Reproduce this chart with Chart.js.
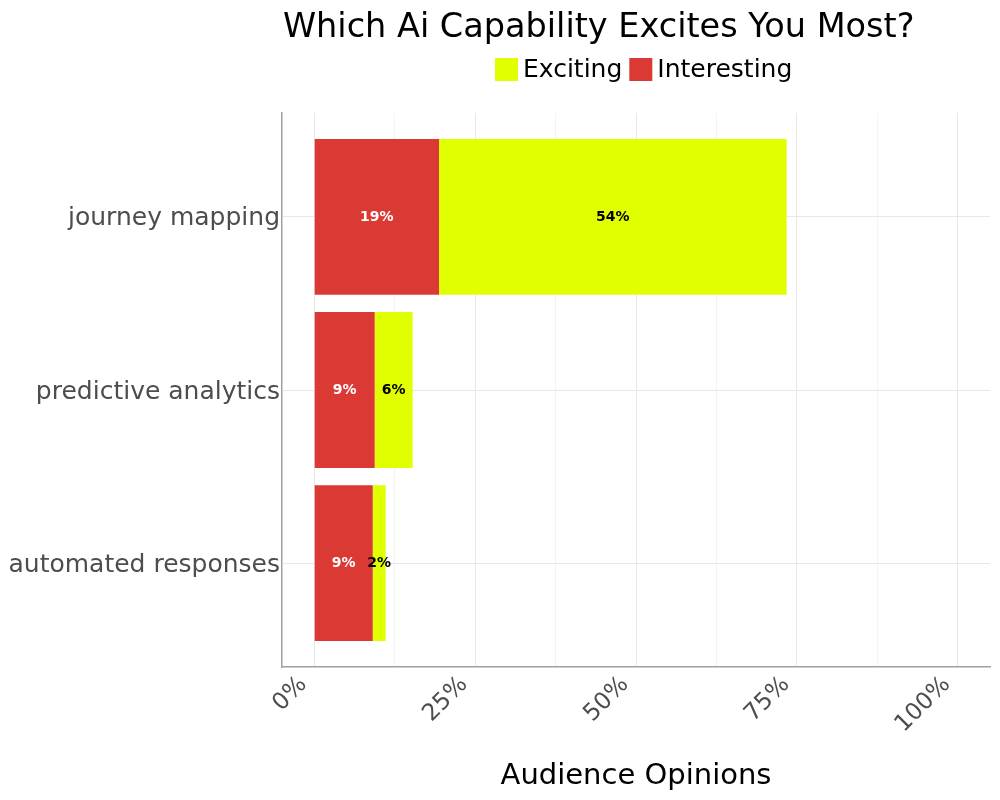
<!DOCTYPE html>
<html>
<head>
<meta charset="utf-8">
<script src="https://cdn.jsdelivr.net/npm/chart.js@4.4.0/dist/chart.umd.min.js"></script>
<style>
  html, body { margin: 0; padding: 0; background: #fff; }
  #wrap { width: 1000px; height: 800px; }
</style>
</head>
<body>
<div id="wrap"><canvas id="chart" width="1000" height="800"></canvas></div>
<script>
// data
var categories = ['journey mapping', 'predictive analytics', 'automated responses'];
var interesting = [19.4, 9.4, 9.1];
var exciting = [54.0, 5.9, 2.0];
var xTicks = [0, 12.5, 25, 37.5, 50, 62.5, 75, 87.5, 100];

var RED = '#db3a34';
var YELLOW = '#e0ff00';
var FONT = "'DejaVu Sans', sans-serif";

function points(values){
  return values.map(function(v, i){ return {x: v, y: i}; });
}

// title, legend, axis title and bar labels drawn on the canvas
var extras = {
  id: 'extras',
  afterDatasetsDraw: function(chart){
    var ctx = chart.ctx;
    ctx.save();
    ctx.font = 'bold 14px ' + FONT;
    ctx.textAlign = 'center';
    ctx.textBaseline = 'middle';
    chart.data.datasets.forEach(function(ds, di){
      var meta = chart.getDatasetMeta(di);
      meta.data.forEach(function(bar, i){
        var v = ds.data[i].x;
        ctx.fillStyle = ds.labelColor;
        ctx.fillText(Math.round(v) + '%', (bar.x + bar.base) / 2, bar.y);
      });
    });
    ctx.restore();
  },
  afterDraw: function(chart){
    var ctx = chart.ctx;
    var area = chart.chartArea;
    ctx.save();
    ctx.textBaseline = 'alphabetic';
    ctx.fillStyle = '#000';
    ctx.textAlign = 'left';
    ctx.font = '33.5px ' + FONT;
    ctx.fillText('Which Ai Capability Excites You Most?', area.left + 1, 37);

    // legend
    ctx.font = '25px ' + FONT;
    var x = 495;
    [['Exciting', YELLOW], ['Interesting', RED]].forEach(function(item){
      ctx.fillStyle = item[1];
      ctx.fillRect(x, 58, 23, 23);
      ctx.fillStyle = '#000';
      ctx.fillText(item[0], x + 28, 77);
      x += 28 + ctx.measureText(item[0]).width + 7;
    });

    ctx.textAlign = 'center';
    ctx.font = '29px ' + FONT;
    ctx.fillText('Audience Opinions', (area.left + area.right) / 2, 784);
    ctx.restore();
  }
};

var ctx = document.getElementById('chart').getContext('2d');
var chart = new Chart(ctx, {
  type: 'bar',
  data: {
    datasets: [
      {
        label: 'Interesting',
        data: points(interesting),
        backgroundColor: RED,
        labelColor: '#ffffff',
        borderWidth: 0
      },
      {
        label: 'Exciting',
        data: points(exciting),
        backgroundColor: YELLOW,
        labelColor: '#000000',
        borderWidth: 0
      }
    ]
  },
  options: {
    indexAxis: 'y',
    responsive: false,
    animation: false,
    devicePixelRatio: 1,
    barPercentage: 0.9,
    categoryPercentage: 1.0,
    layout: { padding: { top: 113, right: 10, bottom: 0, left: 0 } },
    plugins: {
      legend: { display: false },
      title: { display: false },
      tooltip: { enabled: false }
    },
    scales: {
      x: {
        type: 'linear',
        stacked: true,
        min: -5,
        max: 105,
        afterBuildTicks: function(axis){
          axis.ticks = xTicks.map(function(v){ return {value: v}; });
        },
        afterFit: function(axis){ axis.height = 133; },
        ticks: {
          autoSkip: false,
          minRotation: 45,
          maxRotation: 45,
          padding: 4,
          labelOffset: -11,
          color: '#4d4d4d',
          font: { family: FONT, size: 23.5 },
          callback: function(v){ return v % 25 === 0 ? v + '%' : ''; }
        },
        grid: {
          drawTicks: false,
          color: function(c){
            return c.tick && c.tick.value % 25 === 0 ? '#e8e8e8' : '#f3f3f3';
          },
          lineWidth: 1
        },
        border: { display: true, color: '#a0a0a0', width: 1.5 }
      },
      y: {
        type: 'linear',
        stacked: true,
        reverse: true,
        offset: false,
        min: -0.6,
        max: 2.6,
        afterBuildTicks: function(axis){
          axis.ticks = categories.map(function(c, i){ return {value: i}; });
        },
        afterFit: function(axis){ axis.width = 282; },
        ticks: {
          autoSkip: false,
          padding: 2,
          labelOffset: 2,
          color: '#4d4d4d',
          font: { family: FONT, size: 25 },
          callback: function(v){ return categories[v]; }
        },
        grid: {
          offset: false,
          drawTicks: false,
          color: '#e8e8e8',
          lineWidth: 1
        },
        border: { display: true, color: '#a0a0a0', width: 1.5 }
      }
    }
  },
  plugins: [extras]
});
</script>
</body>
</html>
